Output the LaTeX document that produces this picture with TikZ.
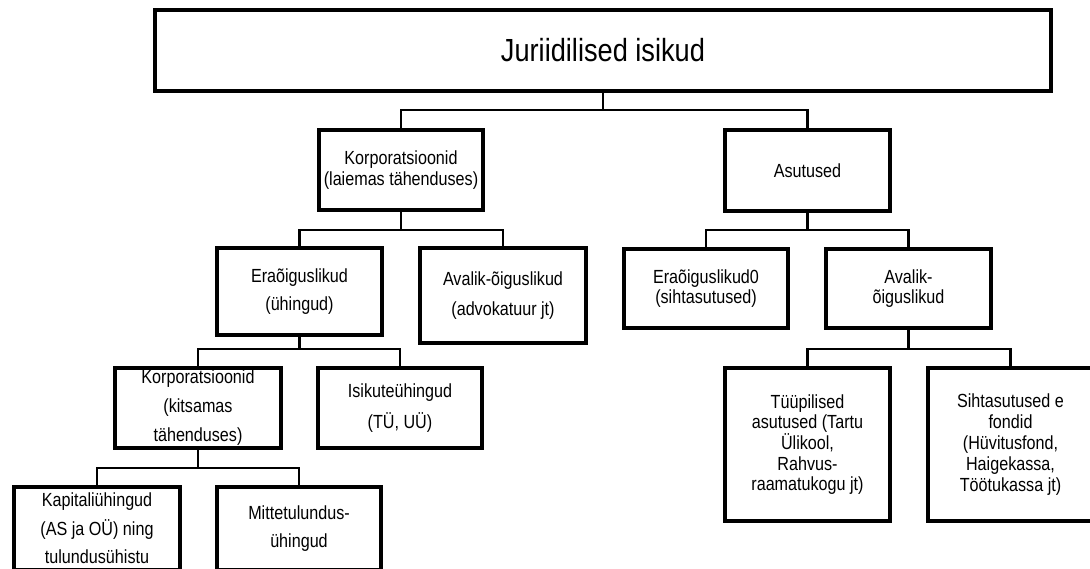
\documentclass[tikz,border=0pt]{standalone}
\usepackage{fontspec}
\setmainfont[FakeStretch=0.85]{Liberation Sans}
\usetikzlibrary{shadows}

\tikzset{
  box/.style={draw=black, line width=4.2pt, fill=white, rectangle, inner sep=0pt,
    align=center, font=\fontsize{19}{21}\selectfont,
    drop shadow={shadow xshift=1.6pt, shadow yshift=-1.8pt, opacity=0.28, fill=black}},
  conn/.style={draw=black, line width=2.8pt, line cap=rect},
}

\begin{document}
\begin{tikzpicture}[x=1pt, y=-1pt]
  \useasboundingbox (0,0) rectangle (1090,569);
  \fill[white] (0,0) rectangle (1090,569);
  \clip (0,0) rectangle (1090,569);

  % level 0
  \node[box, minimum width=896pt, minimum height=81pt, font=\fontsize{32}{36}\selectfont]
    (root) at (603,50.5) {Juriidilised isikud};

  % level 1
  \node[box, minimum width=164pt, minimum height=80pt, font=\fontsize{19}{21}\selectfont]
    (korpL) at (401,170) {Korporatsioonid\\(laiemas tähenduses)};
  \node[box, minimum width=165pt, minimum height=81pt]
    (asut) at (807.5,170.5) {Asutused};

  % level 2
  \node[box, minimum width=165pt, minimum height=87pt, font=\fontsize{19}{28}\selectfont]
    (era1) at (299.5,291.5) {Eraõiguslikud\\(ühingud)};
  \node[box, minimum width=166pt, minimum height=95pt, font=\fontsize{19}{30}\selectfont]
    (aval1) at (503,295.5) {Avalik-õiguslikud\\(advokatuur jt)};
  \node[box, minimum width=164pt, minimum height=79pt, font=\fontsize{19}{20}\selectfont]
    (era0) at (706,288.5) {Eraõiguslikud0\\(sihtasutused)};
  \node[box, minimum width=165pt, minimum height=79pt, font=\fontsize{19}{20}\selectfont]
    (aval2) at (908.5,288.5) {Avalik-\\õiguslikud};

  % level 3
  \node[box, minimum width=166pt, minimum height=80pt, font=\fontsize{19}{29}\selectfont]
    (korpK) at (198,408) {Korporatsioonid\\(kitsamas\\tähenduses)};
  \node[box, minimum width=164pt, minimum height=80pt, font=\fontsize{19}{31}\selectfont]
    (isik) at (400,408) {Isikuteühingud\\(TÜ, UÜ)};
  \node[box, minimum width=165pt, minimum height=153pt, font=\fontsize{19}{20.6}\selectfont]
    (tyyp) at (807.5,444.5) {Tüüpilised\\asutused (Tartu\\Ülikool,\\Rahvus-\\raamatukogu jt)};
  \node[box, minimum width=165pt, minimum height=153pt, font=\fontsize{19}{21}\selectfont]
    (siht) at (1010.5,444.5) {Sihtasutused e\\fondid\\(Hüvitusfond,\\Haigekassa,\\Töötukassa jt)};

  % level 4
  \node[box, minimum width=166pt, minimum height=83pt, font=\fontsize{19}{28.5}\selectfont]
    (kapit) at (97,528.5) {Kapitaliühingud\\(AS ja OÜ) ning\\tulundusühistu};
  \node[box, minimum width=164pt, minimum height=83pt, font=\fontsize{19}{28}\selectfont]
    (mitt) at (299,528.5) {Mittetulundus-\\ühingud};

  % bar heights of the elbow connectors
  \coordinate (b0) at (0,110);
  \coordinate (b1) at (0,230);
  \coordinate (b2) at (0,349);
  \coordinate (b3) at (0,468);

  \draw[conn] (root.south) -- (root.south |- b0) -| (korpL.north);
  \draw[conn] (root.south |- b0) -| (asut.north);

  \draw[conn] (korpL.south) -- (korpL.south |- b1) -| (era1.north);
  \draw[conn] (korpL.south |- b1) -| (aval1.north);

  \draw[conn] (asut.south) -- (asut.south |- b1) -| (era0.north);
  \draw[conn] (asut.south |- b1) -| (aval2.north);

  \draw[conn] (era1.south) -- (era1.south |- b2) -| (korpK.north);
  \draw[conn] (era1.south |- b2) -| (isik.north);

  \draw[conn] (aval2.south) -- (aval2.south |- b2) -| (tyyp.north);
  \draw[conn] (aval2.south |- b2) -| (siht.north);

  \draw[conn] (korpK.south) -- (korpK.south |- b3) -| (kapit.north);
  \draw[conn] (korpK.south |- b3) -| (mitt.north);
\end{tikzpicture}
\end{document}
